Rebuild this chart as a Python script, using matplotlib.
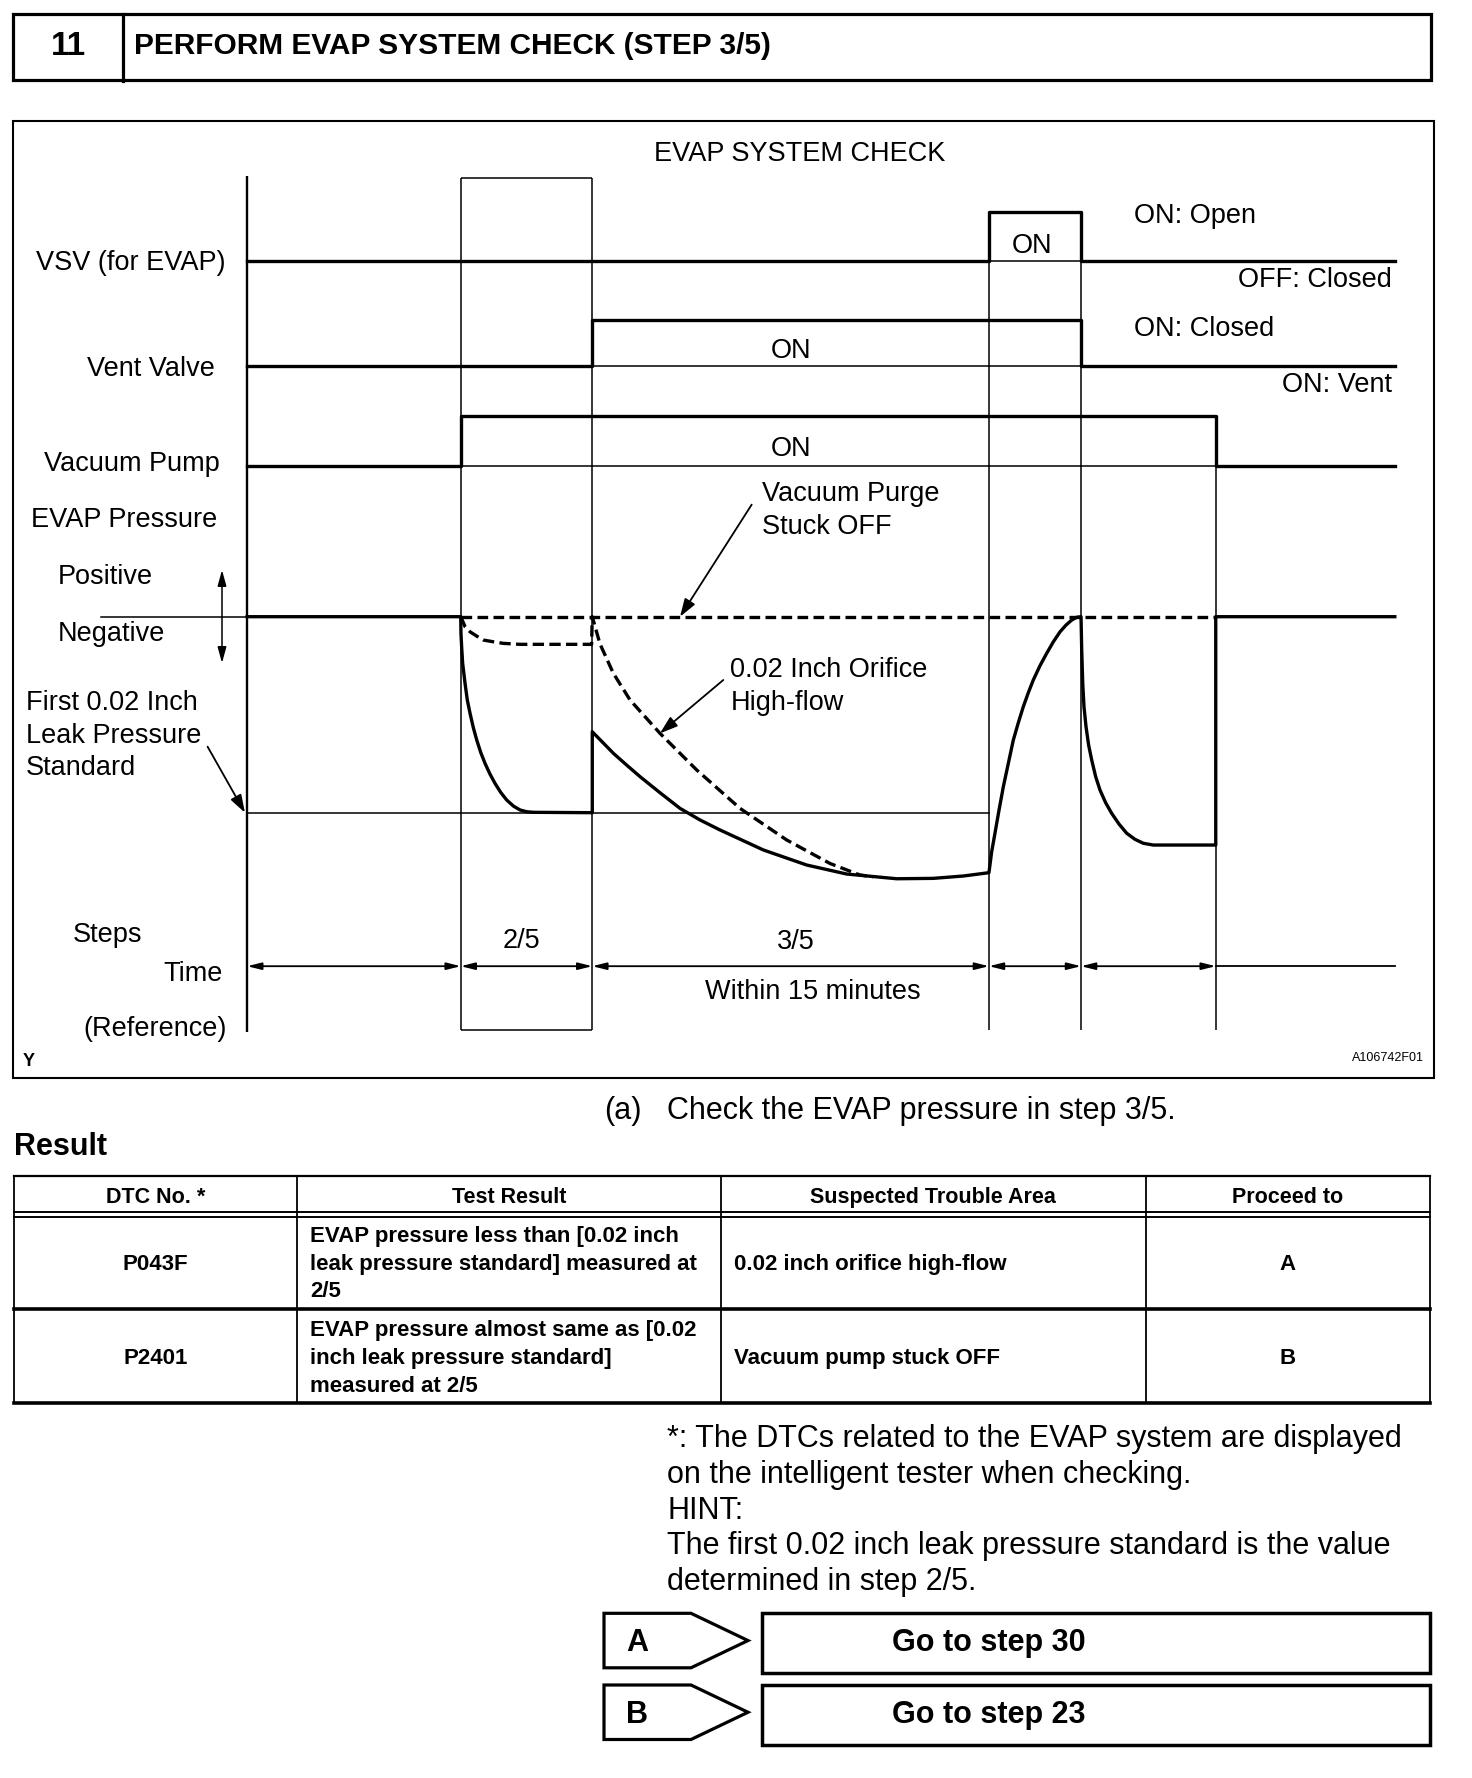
import matplotlib
matplotlib.use("Agg")
import matplotlib.pyplot as plt
from matplotlib.patches import Rectangle, Polygon
from matplotlib.transforms import blended_transform_factory

plt.rcParams['font.family'] = ['Liberation Sans', 'DejaVu Sans']

# ---- chart data ----
# transition times of the check (arbitrary time units)
events = [0.0, 1.883, 3.043, 6.541, 7.353, 8.541]
t_end = 10.12

# ON (1) / OFF (0) for each interval between the events
vsv_state = [0, 0, 0, 1, 0, 0]
vent_state = [0, 0, 1, 1, 0, 0]
pump_state = [0, 1, 1, 1, 1, 0]

# EVAP pressure: 0 = atmosphere, -1 = first 0.02 inch leak pressure standard
normal_t = [0.0, 1.883, 1.885, 1.891, 1.900, 1.921, 1.941, 1.965, 1.994, 2.024, 2.059, 2.097, 2.141,
            2.185, 2.235, 2.288, 2.347, 2.406, 2.464, 2.523, 3.043,
            3.043, 3.229, 3.346, 3.464, 3.640, 3.817, 3.993, 4.169, 4.551, 4.934, 5.287, 5.728,
            6.050, 6.315, 6.541,
            6.565, 6.594, 6.630, 6.668, 6.712, 6.756, 6.800, 6.844, 6.888, 6.932, 6.991, 7.050,
            7.109, 7.168, 7.220, 7.271, 7.315, 7.353,
            7.359, 7.368, 7.379, 7.397, 7.420, 7.447, 7.482, 7.520, 7.570, 7.623, 7.688, 7.756,
            7.829, 7.902, 7.990, 8.541, 8.541, 10.12]
normal_p = [0.0, 0.0, -0.085, -0.153, -0.238, -0.340, -0.425, -0.493, -0.566, -0.629, -0.692, -0.748, -0.803,
            -0.850, -0.896, -0.935, -0.966, -0.986, -0.995, -0.998, -1.0,
            -0.587, -0.697, -0.757, -0.816, -0.898, -0.978, -1.037, -1.088, -1.190, -1.267, -1.313, -1.337,
            -1.335, -1.323, -1.306,
            -1.199, -1.105, -0.986, -0.867, -0.748, -0.629, -0.541, -0.459, -0.388, -0.323, -0.250, -0.187,
            -0.128, -0.077, -0.043, -0.017, -0.003, 0.0,
            -0.170, -0.340, -0.459, -0.561, -0.655, -0.731, -0.816, -0.884, -0.949, -1.003, -1.058, -1.105,
            -1.136, -1.156, -1.165, -1.165, 0.0, 0.0]
orifice_t = [1.883, 1.921, 1.965, 2.024, 2.082, 2.171, 2.258, 2.406, 3.037, 3.043, 3.111, 3.229, 3.376,
             3.640, 3.964, 4.346, 4.757, 5.139, 5.404, 5.521]
orifice_p = [0.0, -0.051, -0.077, -0.099, -0.119, -0.128, -0.136, -0.141, -0.141, 0.0, -0.139, -0.289, -0.425,
             -0.595, -0.782, -0.978, -1.139, -1.259, -1.318, -1.327]
stuck_t = [1.883, 8.541]
stuck_p = [0.0, 0.0]
leak_std_t = [0.0, 6.541]
leak_std_p = [-1.0, -1.0]

# result table
table_header = ["DTC No. *", "Test Result", "Suspected Trouble Area", "Proceed to"]
dtc_codes = ["P043F", "P2401"]
test_results = [["EVAP pressure less than [0.02 inch", "leak pressure standard] measured at", "2/5"],
                ["EVAP pressure almost same as [0.02", "inch leak pressure standard]", "measured at 2/5"]]
trouble_areas = ["0.02 inch orifice high-flow", "Vacuum pump stuck OFF"]
proceed = ["A", "B"]
next_steps = ["Go to step 30", "Go to step 23"]

notes = ["*: The DTCs related to the EVAP system are displayed",
         "on the intelligent tester when checking.",
         "HINT:",
         "The first 0.02 inch leak pressure standard is the value",
         "determined in step 2/5."]

# ---- figure ----
THICK = 2.4
THIN = 1.1
W, H = 1472, 1778

fig = plt.figure(figsize=(W / 100, H / 100), dpi=100)
ax = fig.add_axes([0, 0, 1, 1])
ax.set_xlim(0, W)
ax.set_ylim(H, 0)
ax.axis('off')

# timing axes: x in time units, y in pressure units
T0, TS, P0, PS = 247.2, 113.4, 616.7, 196.0
ax_t = fig.add_axes([0, 0, 1, 1])
ax_t.set_xlim(-T0 / TS, (W - T0) / TS)
ax_t.set_ylim(-(H - P0) / PS, P0 / PS)
ax_t.axis('off')
bt = blended_transform_factory(ax_t.transData, ax.transData)


def txt(x, y, s, size, ha='left', weight='normal'):
    # y is the visual middle of the capitals
    ax.text(x, y + 0.358 * size * 100 / 72, s, fontsize=size, ha=ha, va='baseline',
            fontweight=weight, color='k')


# header
ax.add_patch(Rectangle((12.5, 13.6), 1418.5, 66.9, fill=False, lw=2.3, ec='k'))
ax.plot([123, 123], [13.6, 80.5], color='k', lw=2.3)
txt(68, 43, "11", 24, ha='center', weight='bold')
txt(134, 43, "PERFORM EVAP SYSTEM CHECK (STEP 3/5)", 21.5, weight='bold')

# diagram frame
ax.add_patch(Rectangle((12.5, 121.3), 1421, 956.5, fill=False, lw=1.5, ec='k'))
txt(800, 151, "EVAP SYSTEM CHECK", 19.5, ha='center')

# grid of the time steps
tops = [175.8, 178, 178, 212.1, 212.1, 416.2]
bottoms = [1032, 1029.7, 1029.7, 1029.7, 1029.7, 1029.7]
ax_t.vlines(events[0], tops[0], bottoms[0], colors='k', lw=1.7, transform=bt)
ax_t.vlines(events[1:], tops[1:], bottoms[1:], colors='k', lw=THIN, transform=bt)
ax_t.hlines([178, 1029.7], events[1], events[2], colors='k', lw=THIN, transform=bt)


# on / off signals
def draw_signal(state, base, high):
    xs = events + [t_end]
    ys = [base - s * (base - high) for s in state]
    ys = ys + [ys[-1]]
    ax_t.plot(xs, ys, drawstyle='steps-post', color='k', lw=THICK, transform=bt)
    for i, s in enumerate(state):
        if s:
            ax_t.plot([xs[i], xs[i + 1]], [base, base], color='k', lw=THIN, transform=bt)


draw_signal(vsv_state, 260.8, 212.1)
draw_signal(vent_state, 366.3, 319.8)
draw_signal(pump_state, 466.1, 416.2)

# pressure
ax_t.plot([-1.289, 0], [0, 0], color='k', lw=THIN)
ax_t.plot(leak_std_t, leak_std_p, color='k', lw=THIN)
ax_t.plot(stuck_t, stuck_p, color='k', lw=THICK, dashes=(3.2, 1.6))
ax_t.plot(orifice_t, orifice_p, color='k', lw=THICK, dashes=(3.4, 1.6))
ax_t.plot(normal_t, normal_p, color='k', lw=THICK, solid_joinstyle='round')

# time arrows
TIME_Y = 966.2
small_head = dict(arrowstyle='<|-|>,head_length=0.6,head_width=0.15', mutation_scale=14,
                  lw=1.3, color='k', shrinkA=0, shrinkB=0)
for a, b in zip(events[:-1], events[1:]):
    ax_t.annotate('', xy=(b, TIME_Y), xytext=(a, TIME_Y), xycoords=bt, textcoords=bt,
                  arrowprops=small_head)
ax_t.plot([events[-1], t_end], [TIME_Y, TIME_Y], color='k', lw=1.3, transform=bt)

# pointer arrows
pointer = dict(arrowstyle='-|>,head_length=0.9,head_width=0.3', mutation_scale=12,
               lw=1.3, color='k', shrinkA=0, shrinkB=0)
ax_t.annotate('', xy=(3.817, 0.0), xytext=(751.7, 504.6), textcoords=ax.transData, arrowprops=pointer)
ax_t.annotate('', xy=(3.640, -0.595), xytext=(723.3, 680), textcoords=ax.transData, arrowprops=pointer)
ax_t.annotate('', xy=(-0.02, -1.0), xytext=(207.6, 746.7), textcoords=ax.transData, arrowprops=pointer)
ax.annotate('', xy=(222, 570), xytext=(222, 663),
            arrowprops=dict(arrowstyle='<|-|>,head_length=0.8,head_width=0.22', mutation_scale=12,
                            lw=1.1, color='k', shrinkA=0, shrinkB=0))

# diagram labels
FS = 19.5
txt(225.6, 260.5, "VSV (for EVAP)", FS, ha='right')
txt(214.7, 366, "Vent Valve", FS, ha='right')
txt(219.4, 461, "Vacuum Pump", FS, ha='right')
txt(217, 517, "EVAP Pressure", FS, ha='right')
txt(57.6, 574, "Positive", FS)
txt(57.6, 631, "Negative", FS)
txt(26, 700, "First 0.02 Inch", FS)
txt(26, 733, "Leak Pressure", FS)
txt(26, 765, "Standard", FS)
txt(73, 932, "Steps", FS)
txt(222.7, 971, "Time", FS, ha='right')
txt(226.5, 1026, "(Reference)", FS, ha='right')
txt(22.7, 1060, "Y", 13, weight='bold')
txt(1424, 1057, "A106742F01", 9, ha='right')

txt(1134, 213, "ON: Open", FS)
txt(1392, 277, "OFF: Closed", FS, ha='right')
txt(1134, 326, "ON: Closed", FS)
txt(1392, 382, "ON: Vent", FS, ha='right')
txt(1032.3, 243, "ON", FS, ha='center')
txt(791, 348, "ON", FS, ha='center')
txt(791, 446, "ON", FS, ha='center')
txt(761.5, 491, "Vacuum Purge", FS)
txt(761.5, 524, "Stuck OFF", FS)
txt(730.5, 667, "0.02 Inch Orifice", FS)
txt(730.5, 700, "High-flow", FS)
txt(521.5, 938, "2/5", FS, ha='center')
txt(796, 939, "3/5", FS, ha='center')
txt(812.8, 989, "Within 15 minutes", FS, ha='center')

# text under the diagram
txt(604, 1108, "(a)", 22)
txt(667, 1108, "Check the EVAP pressure in step 3/5.", 22)
txt(14, 1144, "Result", 22, weight='bold')

# table
cols = [13.6, 297, 721, 1145.5, 1430]
ax.plot([cols[0], cols[-1]], [1176, 1176], color='k', lw=1.6)
ax.plot([cols[0], cols[-1]], [1212, 1212], color='k', lw=1.4)
ax.plot([cols[0], cols[-1]], [1217, 1217], color='k', lw=1.4)
ax.plot([cols[0], cols[-1]], [1309, 1309], color='k', lw=2.6)
ax.plot([cols[0], cols[-1]], [1402.7, 1402.7], color='k', lw=2.6)
for c in cols:
    ax.plot([c, c], [1176, 1402.7], color='k', lw=1.3)

for i, h in enumerate(table_header):
    txt((cols[i] + cols[i + 1]) / 2, 1195, h, 15.5, ha='center', weight='bold')

row_mid = [1261.7, 1356]
for r in range(len(dtc_codes)):
    y = row_mid[r]
    txt((cols[0] + cols[1]) / 2, y, dtc_codes[r], 16, ha='center', weight='bold')
    for k, line in enumerate(test_results[r]):
        txt(cols[1] + 13, y + (k - 1) * 27.7, line, 16, weight='bold')
    txt(cols[2] + 13, y, trouble_areas[r], 16, weight='bold')
    txt((cols[3] + cols[4]) / 2, y, proceed[r], 16, ha='center', weight='bold')

# notes
for k, line in enumerate(notes):
    txt(667, 1436 + k * 35.8, line, 22)

# result boxes
box_tops = [1613.3, 1685]
for r in range(len(proceed)):
    top = box_tops[r]
    bot = top + 54.5
    mid = (top + bot) / 2
    ax.add_patch(Polygon([(604, top), (691, top), (748, mid), (691, bot), (604, bot)],
                         closed=True, fill=False, lw=2.3, ec='k', joinstyle='miter'))
    txt(637, mid, proceed[r], 22, ha='center', weight='bold')
    ax.add_patch(Rectangle((762, top), 668, 60, fill=False, lw=2.5, ec='k'))
    txt(989, mid, next_steps[r], 22, ha='center', weight='bold')

fig.savefig("out.png", dpi=100)
